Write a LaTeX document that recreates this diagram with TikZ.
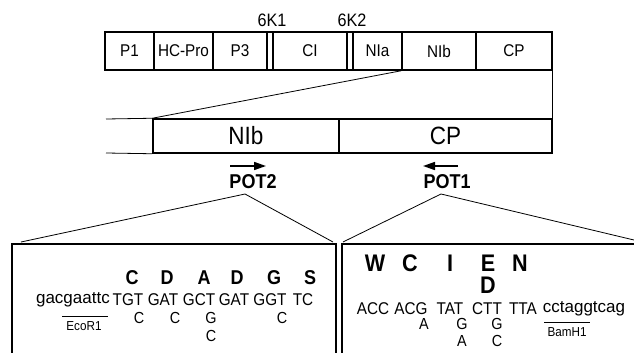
\documentclass[tikz,border=0pt]{standalone}
\usepackage{fontspec}
\setmainfont{Liberation Sans}
\newfontfamily\nrw{Liberation Sans}[FakeStretch=0.9]
\usetikzlibrary{arrows.meta}
\begin{document}
\begin{tikzpicture}[x=1pt,y=-1pt,
  seg/.style={draw,line width=1.5pt,inner sep=0pt,minimum height=38pt,font=\nrw\fontsize{17}{19}\selectfont},
  seg2/.style={draw,line width=1.5pt,inner sep=0pt,minimum height=34pt,font=\nrw\fontsize{25}{27}\selectfont},
  lbl/.style={inner sep=0pt,font=\nrw\fontsize{18}{20}\selectfont},
  potlbl/.style={inner sep=0pt,font=\nrw\fontsize{20}{22}\selectfont\bfseries},
  aaL/.style={inner sep=0pt,font=\nrw\fontsize{20}{22}\selectfont\bfseries},
  aaR/.style={inner sep=0pt,font=\nrw\fontsize{24}{26}\selectfont\bfseries},
  sq/.style={inner sep=0pt,font=\nrw\fontsize{17}{19}\selectfont},
  sqs/.style={inner sep=0pt,font=\nrw\fontsize{16}{18}\selectfont},
  sql/.style={inner sep=0pt,font=\fontsize{17}{19}\selectfont},
  enz/.style={inner sep=0pt,font=\nrw\fontsize{13}{15}\selectfont},
  thin/.style={line width=0.8pt},
  thick2/.style={line width=2pt},
  primer/.style={line width=1.6pt,-{Triangle[length=12pt,width=8pt]}}
]
\useasboundingbox (0,0) rectangle (634,353);
\clip (0,0) rectangle (634,353);

% top polyprotein bar
\node[seg,minimum width=49pt] (P1) at (129.5,51) {P1};
\node[seg,minimum width=59pt] (HC) at (183.5,51) {HC-Pro};
\node[seg,minimum width=54pt] (P3) at (240,51) {P3};
\node[seg,minimum width=6pt] (K1) at (270,51) {};
\node[seg,minimum width=74pt] (CI) at (310,51) {CI};
\node[seg,minimum width=6pt] (K2) at (350,51) {};
\node[seg,minimum width=49pt] (NIa) at (377.5,51) {NIa};
\node[seg,minimum width=74pt] (NIb) at (439,51) {NIb};
\node[seg,minimum width=76pt] (CP) at (514,51) {CP};
\node[lbl] (K1l) at (272,20) {6K1};
\node[lbl] (K2l) at (352,20) {6K2};

% enlarged NIb-CP bar
\node[seg2,minimum width=186pt] (NIb2) at (246,136) {NIb};
\node[seg2,minimum width=213pt] (CP2) at (445.5,136) {CP};
\coordinate (la) at (106,119);
\coordinate (lb) at (106,153);
\draw[thin] (la) -- (NIb2.north west);
\draw[thin] (lb) -- (NIb2.south west);
\draw[thin] (NIb.south west) -- (NIb2.north west);
\draw[thin] (CP.south east) -- (CP2.north east);

% primers
\coordinate (a2s) at (230,166);
\coordinate (a2e) at (266,166);
\draw[primer] (a2s) -- (a2e);
\node[potlbl] (POT2) at (253,182) {POT2};
\coordinate (a1s) at (458,166);
\coordinate (a1e) at (423,166);
\draw[primer] (a1s) -- (a1e);
\node[potlbl] (POT1) at (447,182) {POT1};

% lower boxes
\node[draw,thick2,inner sep=0pt,minimum width=324pt,minimum height=130pt,anchor=north west] (boxL) at (11,243) {};
\node[draw,thick2,inner sep=0pt,minimum width=310pt,minimum height=130pt,anchor=north west] (boxR) at (341,243) {};

\coordinate (p2) at (245,194);
\coordinate (p2l) at (21,242);
\coordinate (p2r) at (333,242);
\draw[thin] (p2l) -- (p2) -- (p2r);
\coordinate (p1) at (441,194);
\coordinate (p1l) at (343,242);
\coordinate (p1r) at (634,240);
\draw[thin] (p1l) -- (p1) -- (p1r);

% left sequence
\node[aaL] (la1) at (132,278) {C};
\node[aaL] (la2) at (167,278) {D};
\node[aaL] (la3) at (204,278) {A};
\node[aaL] (la4) at (237,278) {D};
\node[aaL] (la5) at (274,278) {G};
\node[aaL] (la6) at (310,278) {S};
\node[sql,anchor=east] (ls0) at (110,300) {gacgaattc};
\node[sq] (ls1) at (128,300) {TGT};
\node[sq] (ls2) at (163,300) {GAT};
\node[sq] (ls3) at (199,300) {GCT};
\node[sq] (ls4) at (234,300) {GAT};
\node[sq] (ls5) at (270,300) {GGT};
\node[sq] (ls6) at (303,300) {TC};
\node[sqs] (lm1) at (139,318) {C};
\node[sqs] (lm2) at (175,318) {C};
\node[sqs] (lm3) at (211,318) {G};
\node[sqs] (lm4) at (282,318) {C};
\node[sqs] (lm5) at (211,336) {C};
\coordinate (eA) at (62,316);
\coordinate (eB) at (108,316);
\draw[line width=1pt] (eA) -- (eB);
\node[enz] (eco) at (84,326) {EcoR1};

% right sequence
\node[aaR] (ra1) at (375,263) {W};
\node[aaR] (ra2) at (410,263) {C};
\node[aaR] (ra3) at (450,263) {I};
\node[aaR] (ra4) at (488,263) {E};
\node[aaR] (ra5) at (520,263) {N};
\node[aaR] (ra6) at (488,285) {D};
\node[sq] (rs1) at (373,309) {ACC};
\node[sq] (rs2) at (411,309) {ACG};
\node[sq] (rs3) at (450,309) {TAT};
\node[sq] (rs4) at (487,309) {CTT};
\node[sq] (rs5) at (523,309) {TTA};
\node[sql] (rs6) at (584,309) {cctaggtcag};
\node[sqs] (rm1) at (424,324) {A};
\node[sqs] (rm2) at (462,324) {G};
\node[sqs] (rm3) at (497,324) {G};
\node[sqs] (rm4) at (462,341) {A};
\node[sqs] (rm5) at (497,341) {C};
\coordinate (bA) at (544,322);
\coordinate (bB) at (590,322);
\draw[line width=1pt] (bA) -- (bB);
\node[enz] (bam) at (567,332) {BamH1};
\end{tikzpicture}
\end{document}
